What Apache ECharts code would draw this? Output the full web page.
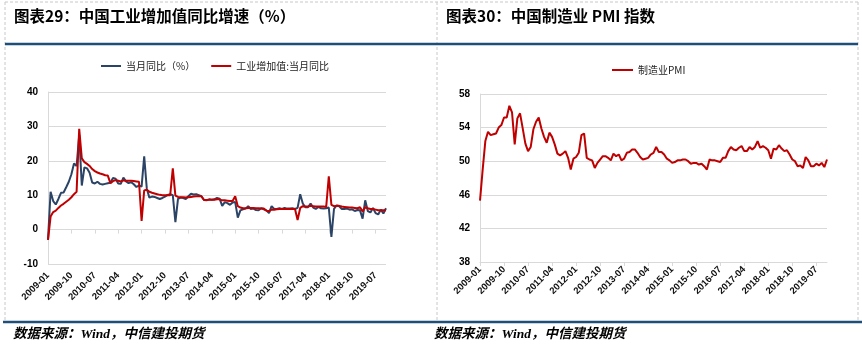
<!DOCTYPE html>
<html>
<head>
<meta charset="utf-8">
<script src="https://cdn.jsdelivr.net/npm/echarts@6/dist/echarts.min.js"></script>
<style>
  html, body { margin: 0; padding: 0; background: #fff; }
  #chart { width: 862px; height: 344px; }
</style>
</head>
<body>
<div id="chart"></div>
<script>
// Monthly categories, 2009-01 .. 2019-11
const months = [];
for (let y = 2009; y <= 2019; y++) {
  for (let m = 1; m <= 12; m++) {
    if (y === 2019 && m > 11) break;
    months.push(y + '-' + (m < 10 ? '0' + m : m));
  }
}

// 当月同比（%）
const ivaMonthly = [
  -3.0, 11.0, 8.3, 7.3, 8.9, 10.7, 10.8, 12.3, 13.9, 16.1, 19.2, 18.5,
  27.5, 12.8, 18.1, 17.8, 16.5, 13.7, 13.4, 13.9, 13.3, 13.1, 13.3, 13.5,
  13.6, 15.0, 14.8, 13.4, 13.3, 15.1, 14.0, 13.5, 13.8, 13.2, 12.4, 12.8,
  12.5, 21.3, 11.9, 9.3, 9.6, 9.5, 9.2, 8.9, 9.2, 9.6, 10.1, 10.3,
  10.0, 2.2, 8.9, 9.3, 9.2, 8.9, 9.7, 10.4, 10.2, 10.3, 10.0, 9.7,
  8.6, 8.5, 8.8, 8.7, 8.8, 9.2, 9.0, 6.9, 8.0, 7.7, 7.2, 7.9,
  8.0, 3.5, 5.6, 5.9, 6.1, 6.8, 6.0, 6.1, 5.7, 5.6, 6.2, 5.9,
  5.6, 4.8, 6.8, 6.0, 6.0, 6.2, 6.0, 6.3, 6.1, 6.1, 6.2, 6.0,
  6.3, 10.3, 7.6, 6.5, 6.5, 7.6, 6.4, 6.0, 6.6, 6.2, 6.1, 6.2,
  6.4, -2.1, 6.0, 7.0, 6.8, 6.0, 6.0, 6.1, 5.8, 5.9, 5.4, 5.7,
  5.6, 3.2, 8.5, 5.4, 5.0, 6.3, 4.8, 4.4, 5.8, 4.7, 6.2
];

// 工业增加值:当月同比
const ivaIndex = [
  -3.0, 3.8, 5.1, 5.5, 6.3, 7.0, 7.5, 8.1, 8.7, 9.4, 10.3, 11.0,
  29.3, 20.7, 19.6, 19.1, 18.5, 17.6, 17.0, 16.6, 16.3, 16.1, 15.8, 15.7,
  13.5, 14.1, 14.4, 14.2, 14.0, 14.3, 14.2, 14.2, 14.2, 14.1, 14.0, 13.9,
  2.5, 11.4, 11.6, 11.0, 10.7, 10.5, 10.3, 10.1, 10.0, 10.0, 10.0, 10.0,
  17.8, 9.9, 9.5, 9.4, 9.4, 9.3, 9.4, 9.5, 9.6, 9.7, 9.7, 9.7,
  8.6, 8.6, 8.7, 8.7, 8.7, 8.8, 8.8, 8.5, 8.5, 8.4, 8.3, 8.3,
  9.7, 6.8, 6.4, 6.2, 6.2, 6.3, 6.3, 6.3, 6.2, 6.2, 6.1, 6.1,
  5.5, 5.4, 5.8, 5.8, 5.9, 6.0, 6.0, 6.0, 6.0, 6.0, 6.0, 6.0,
  2.8, 6.3, 6.8, 6.7, 6.7, 6.9, 6.8, 6.7, 6.7, 6.7, 6.7, 6.6,
  15.5, 7.2, 6.8, 6.9, 6.9, 6.7, 6.6, 6.5, 6.4, 6.4, 6.3, 6.2,
  6.5, 5.3, 6.5, 6.2, 6.0, 6.0, 5.8, 5.6, 5.6, 5.6, 5.6
];

// 制造业PMI
const pmi = [
  45.3, 49.0, 52.4, 53.5, 53.1, 53.2, 53.3, 54.0, 54.3, 55.2, 55.2, 56.6,
  55.8, 52.0, 55.1, 55.7, 53.9, 52.1, 51.2, 51.7, 53.8, 54.7, 55.2, 53.9,
  52.9, 52.2, 53.4, 52.9, 52.0, 50.9, 50.7, 50.9, 51.2, 50.4, 49.0, 50.3,
  50.5, 51.0, 53.1, 53.3, 50.4, 50.2, 50.1, 49.2, 49.8, 50.2, 50.6, 50.6,
  50.4, 50.1, 50.9, 50.6, 50.8, 50.1, 50.3, 51.0, 51.1, 51.4, 51.4, 51.0,
  50.5, 50.2, 50.3, 50.4, 50.8, 51.0, 51.7, 51.1, 51.1, 50.8, 50.3, 50.1,
  49.8, 49.9, 50.1, 50.1, 50.2, 50.2, 50.0, 49.7, 49.8, 49.8, 49.6, 49.7,
  49.4, 49.0, 50.2, 50.1, 50.1, 50.0, 49.9, 50.4, 50.4, 51.2, 51.7, 51.4,
  51.3, 51.6, 51.8, 51.2, 51.2, 51.7, 51.4, 51.7, 52.4, 51.6, 51.8, 51.6,
  51.3, 50.3, 51.5, 51.4, 51.9, 51.5, 51.2, 51.3, 50.8, 50.2, 50.0, 49.4,
  49.5, 49.2, 50.5, 50.1, 49.4, 49.4, 49.7, 49.5, 49.8, 49.3, 50.2
];

const BLUE = '#2b4466';
const RED = '#c00000';
const RULE = '#1f4e79';
const GRID = '#d9d9d9';
const DASH = '#c8c8c8';

const labelFont = "'Liberation Sans', Arial, sans-serif";
const cjkFont = "'Noto Sans CJK SC', sans-serif";
const sourceFont = "'Liberation Serif', 'Noto Sans CJK SC', serif";

function catAxis(gridIndex, extra) {
  return Object.assign({
    type: 'category',
    gridIndex: gridIndex,
    data: months,
    boundaryGap: false
  }, extra);
}

const xLabel = {
  interval: 8,
  rotate: 45,
  fontSize: 9.5,
  fontWeight: 'bold',
  color: '#111',
  fontFamily: labelFont
};

const yLabel = {
  fontSize: 10,
  fontWeight: 'bold',
  color: '#000',
  margin: 10,
  fontFamily: labelFont
};

const headingStyle = { fontSize: 15.5, fontWeight: 'bold', color: '#000', fontFamily: cjkFont };
const sourceStyle = { fontSize: 13.5, fontWeight: 'bold', fontStyle: 'italic', color: '#000', fontFamily: sourceFont };

const chart = echarts.init(document.getElementById('chart'), null, { renderer: 'canvas' });

chart.setOption({
  animation: false,
  backgroundColor: '#fff',
  title: [
    { text: '图表29：中国工业增加值同比增速（%）', left: 14, top: 8, padding: 0, textStyle: headingStyle },
    { text: '图表30：中国制造业 PMI 指数', left: 446, top: 8, padding: 0, textStyle: headingStyle },
    { text: '数据来源：Wind，中信建投期货', left: 13, top: 328, padding: 0, textStyle: sourceStyle },
    { text: '数据来源：Wind，中信建投期货', left: 434, top: 328, padding: 0, textStyle: sourceStyle }
  ],
  graphic: [
    // panel frames
    { type: 'line', shape: { x1: 5, y1: 2, x2: 858, y2: 2 }, style: { stroke: DASH, lineWidth: 1, lineDash: [3, 2] } },
    { type: 'line', shape: { x1: 5, y1: 2, x2: 5, y2: 321 }, style: { stroke: DASH, lineWidth: 1, lineDash: [3, 2] } },
    { type: 'line', shape: { x1: 437, y1: 2, x2: 437, y2: 321 }, style: { stroke: DASH, lineWidth: 1, lineDash: [3, 2] } },
    { type: 'line', shape: { x1: 858, y1: 2, x2: 858, y2: 321 }, style: { stroke: DASH, lineWidth: 1, lineDash: [3, 2] } },
    // heading and source rules
    { type: 'line', shape: { x1: 5, y1: 44, x2: 858, y2: 44 }, style: { stroke: RULE, lineWidth: 2.5 } },
    { type: 'line', shape: { x1: 3, y1: 322, x2: 862, y2: 322 }, style: { stroke: RULE, lineWidth: 2.5 } }
  ],
  legend: [
    {
      data: ['当月同比（%）', '工业增加值:当月同比'],
      left: 101, top: 61, padding: 0,
      icon: 'rect', itemWidth: 20, itemHeight: 2, itemGap: 16,
      textStyle: { fontSize: 10, color: '#222', fontFamily: cjkFont }
    },
    {
      data: ['制造业PMI'],
      left: 612, top: 65, padding: 0,
      icon: 'rect', itemWidth: 21, itemHeight: 2,
      textStyle: { fontSize: 10, color: '#222', fontFamily: cjkFont }
    }
  ],
  grid: [
    { left: 48, top: 92, width: 338, height: 172 },
    { left: 480, top: 94, width: 347, height: 168 }
  ],
  xAxis: [
    // labels along the bottom of the left panel
    catAxis(0, {
      position: 'bottom',
      axisLine: { show: false, onZero: false },
      axisTick: { show: false },
      axisLabel: Object.assign({ margin: 10 }, xLabel)
    }),
    // baseline with ticks at zero
    catAxis(0, {
      position: 'bottom',
      axisLine: { show: true, onZero: true, lineStyle: { color: GRID, width: 1 } },
      axisTick: { show: true, interval: 8, length: 4, lineStyle: { color: GRID } },
      axisLabel: { show: false }
    }),
    catAxis(1, {
      position: 'bottom',
      axisLine: { show: true, lineStyle: { color: GRID, width: 1 } },
      axisTick: { show: true, interval: 8, length: 4, lineStyle: { color: GRID } },
      axisLabel: Object.assign({ margin: 6 }, xLabel)
    })
  ],
  yAxis: [
    {
      type: 'value', gridIndex: 0, min: -10, max: 40, interval: 10,
      axisLine: { show: true, lineStyle: { color: GRID } },
      axisTick: { show: false },
      splitLine: { lineStyle: { color: GRID } },
      axisLabel: yLabel
    },
    {
      type: 'value', gridIndex: 1, min: 38, max: 58, interval: 4,
      axisLine: { show: true, lineStyle: { color: GRID } },
      axisTick: { show: false },
      splitLine: { lineStyle: { color: GRID } },
      axisLabel: yLabel
    }
  ],
  series: [
    {
      name: '当月同比（%）', type: 'line', xAxisIndex: 0, yAxisIndex: 0,
      data: ivaMonthly, symbol: 'none',
      itemStyle: { color: BLUE }, lineStyle: { color: BLUE, width: 2 }
    },
    {
      name: '工业增加值:当月同比', type: 'line', xAxisIndex: 0, yAxisIndex: 0,
      data: ivaIndex, symbol: 'none',
      itemStyle: { color: RED }, lineStyle: { color: RED, width: 2 }
    },
    {
      name: '制造业PMI', type: 'line', xAxisIndex: 2, yAxisIndex: 1,
      data: pmi, symbol: 'none',
      itemStyle: { color: RED }, lineStyle: { color: RED, width: 2 }
    }
  ]
});
</script>
</body>
</html>
